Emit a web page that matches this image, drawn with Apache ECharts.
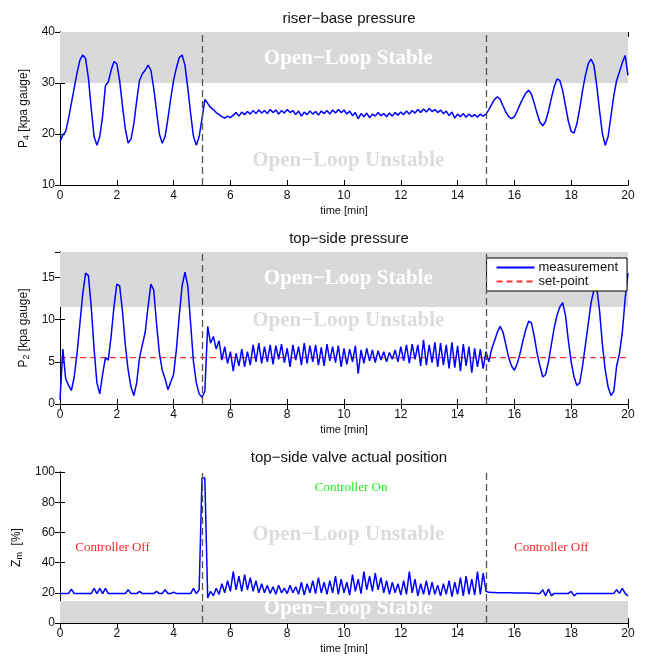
<!DOCTYPE html>
<html>
<head>
<meta charset="utf-8">
<script src="https://cdn.jsdelivr.net/npm/echarts@6/dist/echarts.min.js"></script>
<style>html,body{margin:0;padding:0;background:#fff}#c{width:651px;height:659px}</style>
</head>
<body>
<div id="c"></div>
<script>
// time [min]
const times = [0,0.1,0.2,0.3,0.4,0.5,0.6,0.7,0.8,0.9,1,1.1,1.2,1.3,1.4,1.5,1.6,1.7,1.8,1.9,2,2.1,2.2,2.3,2.4,2.5,2.6,2.7,2.8,2.9,3,3.1,3.2,3.3,3.4,3.5,3.6,3.7,3.8,3.9,4,4.1,4.2,4.3,4.4,4.5,4.6,4.7,4.8,4.9,5,5.1,5.2,5.3,5.4,5.5,5.6,5.7,5.8,5.9,6,6.1,6.2,6.3,6.4,6.5,6.6,6.7,6.8,6.9,7,7.1,7.2,7.3,7.4,7.5,7.6,7.7,7.8,7.9,8,8.1,8.2,8.3,8.4,8.5,8.6,8.7,8.8,8.9,9,9.1,9.2,9.3,9.4,9.5,9.6,9.7,9.8,9.9,10,10.1,10.2,10.3,10.4,10.5,10.6,10.7,10.8,10.9,11,11.1,11.2,11.3,11.4,11.5,11.6,11.7,11.8,11.9,12,12.1,12.2,12.3,12.4,12.5,12.6,12.7,12.8,12.9,13,13.1,13.2,13.3,13.4,13.5,13.6,13.7,13.8,13.9,14,14.1,14.2,14.3,14.4,14.5,14.6,14.7,14.8,14.9,15,15.1,15.2,15.3,15.4,15.5,15.6,15.7,15.8,15.9,16,16.1,16.2,16.3,16.4,16.5,16.6,16.7,16.8,16.9,17,17.1,17.2,17.3,17.4,17.5,17.6,17.7,17.8,17.9,18,18.1,18.2,18.3,18.4,18.5,18.6,18.7,18.8,18.9,19,19.1,19.2,19.3,19.4,19.5,19.6,19.7,19.8,19.9,20];

// riser-base pressure P4 [kpa gauge]
const p4 = [18.5,19.8,20.5,23,26,29,32,34.5,35.5,34.8,31,25,19.5,17.8,19.5,23.5,29.5,30.2,32.5,34.2,33.8,30.5,25.5,21,18.2,19,22,26.5,30.5,31.8,32.5,33.5,32.5,29,24.5,20,18.2,19.5,23,27,30.5,33,35,35.5,33.5,29,24,19.5,17.8,19.5,23,26.8,26,25.2,24.8,24.2,23.8,23.4,23.1,23.5,23.2,
23.7,24.2,23.5,24.3,23.8,24.4,23.9,24.6,24.0,24.7,24.1,24.6,24.0,24.8,24.2,24.7,23.9,24.6,24.1,24.8,24.2,24.6,23.8,24.5,23.5,24.3,23.8,24.5,23.9,24.4,23.7,24.5,24.0,24.6,23.9,24.7,24.1,24.8,24.2,24.7,23.9,24.5,23.6,24.2,23.0,24.0,23.4,24.1,23.2,23.9,23.5,24.2,23.6,24.0,23.4,24.1,23.5,24.2,23.7,24.3,23.8,24.5,23.9,24.6,24.1,24.8,24.2,24.9,24.3,25.0,24.4,24.8,24.2,24.7,24.0,24.5,23.6,24.3,23.1,23.9,23.4,24.0,23.3,23.9,23.4,23.8,23.3,23.9,23.5,23.9,
24.8,25.8,26.8,27.3,26.8,25.5,24.3,23.4,23.0,23.4,24.5,25.8,27.0,28.0,28.6,27.8,26.0,24.0,22.3,21.6,22.5,24.5,27.0,29.2,30.8,30.5,28.5,25.5,22.5,20.5,20.2,22.0,25.0,28.5,31.5,33.8,34.7,33.5,29.5,24.5,20.0,17.8,19.5,23.5,27.5,30.5,32.2,34.0,35.4,31.5];

// top-side pressure P2 [kpa gauge]
const p2 = [0.5,6.5,3.0,2.2,1.6,3.2,6.0,9.5,13.0,15.5,15.2,11.5,6.5,2.5,1.2,3.5,5.5,5.2,8.0,11.5,14.2,14.0,11.0,7.0,4.0,2.0,1.0,2.5,5.5,7.0,8.5,11.5,14.2,13.5,9.5,6.0,4.0,3.0,1.7,2.6,3.5,6.5,10.5,14.0,15.6,14.0,9.5,5.0,2.5,1.2,0.8,1.5,9.2,7.2,8.0,6.5,7.5,5.2,6.8,4.8,6.2,
3.9,6.0,4.5,6.5,4.4,6.2,4.6,7.0,5.0,7.2,4.8,6.8,5.0,7.0,4.7,6.9,5.3,7.1,4.9,6.6,4.4,7.0,5.2,6.8,4.6,7.2,4.8,6.9,5.0,7.0,4.6,6.7,4.5,7.1,5.1,6.8,4.9,6.9,4.4,6.6,4.7,6.5,5.0,6.9,3.6,6.4,4.8,6.6,5.1,6.4,4.9,6.3,5.2,6.2,5.0,6.1,5.3,6.4,5.0,6.8,5.1,7.0,4.8,7.1,5.3,7.0,4.5,7.6,4.6,7.0,4.9,7.3,4.4,7.2,4.6,7.0,4.2,7.3,4.3,6.9,3.9,7.1,4.5,6.8,3.7,6.6,4.4,6.5,4.2,6.2,
5.0,6.5,7.5,8.5,9.2,8.5,7.0,5.5,4.5,4.0,4.8,6.0,7.5,8.8,9.8,9.6,8.0,6.0,4.5,3.2,3.5,5.0,7.0,9.0,10.5,11.5,12.0,10.5,7.5,5.0,3.2,2.2,2.5,4.5,7.0,9.5,12.0,13.5,13.8,11.0,7.0,4.0,2.0,1.0,1.5,4.5,6.0,8.5,12.5,15.5];

// set-point for P2
const spTimes = [0, 20];
const spValues = [5.5, 5.5];

// top-side valve actual position Zm [%]
const zm = [19.5,19.5,19.5,19.5,22.5,19.5,19.5,19.5,19.5,19.5,19.5,19.5,23,19.5,23,19.5,23,19.5,19.5,19.5,19.5,19.5,19.5,19.5,22,19.5,19.5,19.5,21,19.5,19.5,19.5,19.5,19.5,21,19.5,19.5,22,19.5,19.5,20.5,19.5,19.5,19.5,19.5,19.5,19.5,23,19.5,22,96,96,16.5,21,18,23,19,26,20,28,21,
34,22,31,21,32,22,30,21,28,20,26,20,25,19.5,24,19,25,20,23,19.5,25,20,24,19,27,18.5,26,20,28,19.5,30,20,27,19,28,20,31,19,29,20,27,18.5,32,21,29,19.5,34,22,31,21,33,22,30,20,28,19,27,20,26,18.5,28,19,34,20,29,18,26,19,28,18.5,27,19,25,18,26,19,28,17.5,27,19,30,18,31,19,29,18.5,34,19,33,21,
20.3,20.2,20.2,20.1,20.1,20.1,20.0,20.0,20.0,19.9,19.9,19.9,19.8,19.8,19.8,19.7,19.7,19.6,19.6,22,18,22.5,18,19.6,19.6,19.6,19.6,19.6,19.6,21,18,19.6,19.6,19.6,19.6,19.6,19.6,19.6,19.6,19.6,19.6,19.6,19.6,19.6,19.6,22,19.6,23,19.6,18];

// axis ranges and ticks
const xRange = [0, 20], xStep = 2;
const p4Range = [10, 40], p4Step = 10;
const p2Range = [0, 18], p2Step = 5;
const zmRange = [0, 100], zmStep = 20;
const switchTimes = [5, 15];

// shaded "Open-Loop Stable" bands [from, to]
const p4Band = [30, 40];
const p2Band = [11.5, 18];
const zmBand = [0, 14.5];

// annotations [time, value, text, style]
const p4Notes = [[10.15, 34.7, 'Open−Loop Stable', 'w'], [10.15, 14.8, 'Open−Loop Unstable', 'g']];
const p2Notes = [[10.15, 14.9, 'Open−Loop Stable', 'w'], [10.15, 9.9, 'Open−Loop Unstable', 'g']];
const zmNotes = [[10.15, 58.5, 'Open−Loop Unstable', 'g'], [10.15, 9.6, 'Open−Loop Stable', 'w'],
                 [10.25, 89.5, 'Controller On', 'on'], [1.85, 50, 'Controller Off', 'off'], [17.3, 50, 'Controller Off', 'off']];

const titles = ['riser−base pressure', 'top−side pressure', 'top−side valve actual position'];

const grids = [
  {left: 60, right: 23, top: 32, height: 153},
  {left: 60, right: 23, top: 252, height: 152},
  {left: 60, right: 23, top: 472, height: 151}
];

const noteStyles = {
  w:   {color: '#ffffff', fontFamily: 'Liberation Serif', fontWeight: 'bold', fontSize: 21},
  g:   {color: '#dcdcdc', fontFamily: 'Liberation Serif', fontWeight: 'bold', fontSize: 21},
  on:  {color: '#22ee22', fontFamily: 'Liberation Serif', fontSize: 13},
  off: {color: '#ff2222', fontFamily: 'Liberation Serif', fontSize: 13}
};

const chart = echarts.init(document.getElementById('c'));

const xAxes = [], yAxes = [], series = [];
const yDefs = [
  {range: p4Range, step: p4Step, name: '{a|P}{s|4}{a| [kpa gauge]}', band: p4Band, notes: p4Notes},
  {range: p2Range, step: p2Step, name: '{a|P}{s|2}{a| [kpa gauge]}', band: p2Band, notes: p2Notes},
  {range: zmRange, step: zmStep, name: '{a|Z}{s|m}{a|  [%]}', band: zmBand, notes: zmNotes}
];

const tickCommon = {inside: true, length: 5, lineStyle: {color: '#000', width: 1}};
yDefs.forEach((d, g) => {
  xAxes.push({
    type: 'value', gridIndex: g, min: xRange[0], max: xRange[1], interval: xStep,
    position: 'bottom',
    name: 'time [min]', nameLocation: 'middle', nameGap: 20,
    nameTextStyle: {fontFamily: 'Liberation Sans', fontSize: 11, color: '#111'},
    axisLine: {lineStyle: {color: '#000', width: 1}},
    axisTick: tickCommon,
    axisLabel: {fontFamily: 'Liberation Sans', fontSize: 12, color: '#111', margin: 5},
    splitLine: {show: false}
  });
  xAxes.push({
    type: 'value', gridIndex: g, min: xRange[0], max: xRange[1], interval: xStep,
    position: 'top',
    axisLine: {lineStyle: {color: '#000', width: 1}},
    axisTick: tickCommon, axisLabel: {show: false}, splitLine: {show: false}
  });
  yAxes.push({
    type: 'value', gridIndex: g, min: d.range[0], max: d.range[1], interval: d.step,
    position: 'left',
    name: d.name, nameLocation: 'middle', nameGap: 28,
    nameTextStyle: {
      fontFamily: 'Liberation Sans', fontSize: 12, color: '#111',
      rich: {a: {fontFamily: 'Liberation Sans', fontSize: 12, color: '#111'},
             s: {fontFamily: 'Liberation Sans', fontSize: 9, color: '#111', verticalAlign: 'bottom', padding: [6, 0, 0, 0]}}
    },
    axisLine: {lineStyle: {color: '#000', width: 1}},
    axisTick: tickCommon,
    axisLabel: {fontFamily: 'Liberation Sans', fontSize: 12, color: '#111', margin: 5, showMaxLabel: g !== 1},
    splitLine: {show: false}
  });
  yAxes.push({
    type: 'value', gridIndex: g, min: d.range[0], max: d.range[1], interval: d.step,
    position: 'right',
    axisLine: {lineStyle: {color: '#000', width: 1}},
    axisTick: tickCommon, axisLabel: {show: false}, splitLine: {show: false}
  });

  // background band + switch lines + annotations
  series.push({
    type: 'line', name: 'bg' + g, xAxisIndex: 2 * g, yAxisIndex: 2 * g,
    data: [], silent: true, z: 1,
    markArea: {silent: true, itemStyle: {color: '#d9d9d9'},
      data: [[{yAxis: d.band[0]}, {yAxis: d.band[1]}]]},
    markLine: {silent: true, symbol: 'none', label: {show: false},
      lineStyle: {color: '#555', type: [7, 4], width: 1.3},
      data: switchTimes.map(t => ({xAxis: t}))},
    markPoint: {silent: true, symbol: 'circle', symbolSize: 0,
      data: d.notes.map(n => ({coord: [n[0], n[1]],
        label: Object.assign({show: true, position: 'inside', formatter: n[2]}, noteStyles[n[3]])}))}
  });
});

series.push({
  type: 'line', name: 'P4', xAxisIndex: 0, yAxisIndex: 0, z: 3,
  data: times.map((t, i) => [t, p4[i]]), showSymbol: false, symbol: 'none',
  lineStyle: {color: '#0000ff', width: 1.5}, animation: false
});
series.push({
  type: 'line', name: 'measurement', xAxisIndex: 2, yAxisIndex: 2, z: 3,
  data: times.map((t, i) => [t, p2[i]]), showSymbol: false, symbol: 'none',
  itemStyle: {color: '#0000ff'},
  lineStyle: {color: '#0000ff', width: 1.5}, animation: false
});
series.push({
  type: 'line', name: 'set-point', xAxisIndex: 2, yAxisIndex: 2, z: 2,
  data: spTimes.map((t, i) => [t, spValues[i]]), showSymbol: false, symbol: 'none',
  itemStyle: {color: '#ff3333'},
  lineStyle: {color: '#ff3333', width: 1.2, type: [6, 4]}, animation: false
});
series.push({
  type: 'line', name: 'Zm', xAxisIndex: 4, yAxisIndex: 4, z: 3,
  data: times.map((t, i) => [t, zm[i]]), showSymbol: false, symbol: 'none',
  lineStyle: {color: '#0000ff', width: 1.5}, animation: false
});

chart.setOption({
  animation: false,
  backgroundColor: '#ffffff',
  title: titles.map((t, i) => ({
    text: t, left: 344, textAlign: 'center', top: [6, 226, 445][i],
    textStyle: {fontFamily: 'Liberation Sans', fontWeight: 'normal', fontSize: 15, color: '#111'}
  })),
  legend: {
    data: ['measurement', 'set-point'], orient: 'vertical',
    right: 24, top: 258, backgroundColor: '#ffffff', borderColor: '#000', borderWidth: 1,
    borderRadius: 0, padding: [3, 9, 3, 9], itemGap: 1, itemWidth: 38, itemHeight: 12,
    itemStyle: {opacity: 0},
    textStyle: {fontFamily: 'Liberation Sans', fontSize: 13, color: '#111', padding: [0, 0, 0, -1]}
  },
  grid: grids,
  xAxis: xAxes,
  yAxis: yAxes,
  series: series
});
</script>
</body>
</html>
